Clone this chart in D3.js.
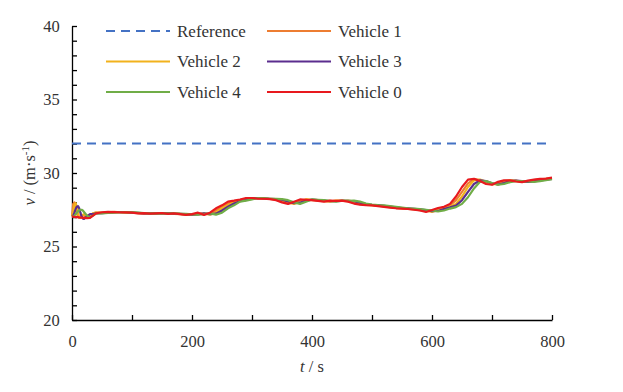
<!DOCTYPE html>
<html>
<head>
<meta charset="utf-8">
<script src="https://cdn.jsdelivr.net/npm/d3@7"></script>
<style>
  body { margin: 0; background: #fff; }
  svg, svg text { font-family: "Liberation Serif", "DejaVu Serif", serif !important; }
  svg text { fill: #333; }
</style>
</head>
<body>
<div class="chart"></div>
<script>
// time stamps (s)
const times = [0, 2, 4, 6, 8, 10, 12, 14, 16, 18, 20, 25, 30, 35,
  40, 50, 60, 70, 80, 90, 100, 110, 120, 130,
  140, 150, 160, 170, 180, 190, 200, 210, 220, 230,
  240, 250, 260, 270, 280, 290, 300, 310, 320, 330,
  340, 350, 360, 370, 380, 390, 400, 410, 420, 430,
  440, 450, 460, 470, 480, 490, 500, 510, 520, 530,
  540, 550, 560, 570, 580, 590, 600, 610, 620, 630,
  640, 650, 660, 670, 680, 690, 700, 710, 720, 730,
  740, 750, 760, 770, 780, 790, 800];

const referenceSpeed = 32;

const vehicle0 = [27.05, 27.03, 27.02, 27.0, 27.0, 27.0, 26.98, 26.97, 26.96, 26.95, 26.95, 26.93, 26.95, 27.1,
  27.25, 27.33, 27.35, 27.34, 27.33, 27.32, 27.3, 27.25, 27.27, 27.24,
  27.26, 27.28, 27.22, 27.25, 27.2, 27.15, 27.2, 27.3, 27.15, 27.3,
  27.6, 27.8, 28.05, 28.12, 28.2, 28.3, 28.3, 28.25, 28.25, 28.22,
  28.15, 28.0, 27.9, 28.05, 28.2, 28.18, 28.15, 28.1, 28.05, 28.12,
  28.1, 28.12, 28.05, 27.92, 27.85, 27.82, 27.8, 27.75, 27.7, 27.65,
  27.6, 27.58, 27.55, 27.5, 27.45, 27.35, 27.48, 27.62, 27.7, 27.9,
  28.4, 29.05, 29.55, 29.6, 29.45, 29.25, 29.2, 29.4, 29.5, 29.5,
  29.42, 29.38, 29.48, 29.55, 29.6, 29.62, 29.68];

const vehicle1 = [27.05, 27.9, 28.0, 27.7, 27.3, 27.0, 26.95, 27.0, 27.1, 27.15, 27.1, 27.05, 27.1, 27.25,
  27.3, 27.3, 27.33, 27.35, 27.32, 27.3, 27.3, 27.27, 27.24, 27.25,
  27.24, 27.26, 27.24, 27.22, 27.2, 27.17, 27.17, 27.25, 27.2, 27.22,
  27.45, 27.7, 27.93, 28.08, 28.16, 28.25, 28.3, 28.27, 28.25, 28.23,
  28.18, 28.08, 27.95, 27.97, 28.12, 28.19, 28.16, 28.12, 28.08, 28.08,
  28.11, 28.11, 28.08, 27.98, 27.88, 27.83, 27.81, 27.77, 27.72, 27.67,
  27.62, 27.59, 27.56, 27.52, 27.47, 27.4, 27.42, 27.55, 27.66, 27.8,
  28.15, 28.72, 29.3, 29.58, 29.52, 29.35, 29.22, 29.3, 29.45, 29.5,
  29.46, 29.4, 29.43, 29.52, 29.57, 29.61, 29.65];

const vehicle2 = [27.05, 27.4, 27.85, 27.95, 27.7, 27.3, 27.0, 26.95, 27.05, 27.15, 27.2, 27.1, 27.1, 27.25,
  27.3, 27.28, 27.32, 27.34, 27.34, 27.31, 27.3, 27.28, 27.26, 27.25,
  27.24, 27.25, 27.26, 27.23, 27.22, 27.19, 27.16, 27.2, 27.25, 27.17,
  27.3, 27.6, 27.8, 28.05, 28.12, 28.2, 28.3, 28.3, 28.25, 28.25,
  28.22, 28.15, 28.0, 27.9, 28.05, 28.2, 28.18, 28.15, 28.1, 28.05,
  28.12, 28.1, 28.12, 28.05, 27.92, 27.85, 27.82, 27.8, 27.75, 27.7,
  27.65, 27.6, 27.58, 27.55, 27.5, 27.45, 27.35, 27.48, 27.62, 27.7,
  27.9, 28.4, 29.05, 29.5, 29.55, 29.42, 29.25, 29.22, 29.38, 29.48,
  29.48, 29.42, 29.4, 29.46, 29.53, 29.58, 29.62];

const vehicle3 = [27.05, 27.1, 27.3, 27.55, 27.7, 27.75, 27.6, 27.3, 27.05, 26.9, 26.88, 27.05, 27.2, 27.2,
  27.25, 27.27, 27.3, 27.33, 27.34, 27.33, 27.31, 27.29, 27.26, 27.25,
  27.25, 27.25, 27.27, 27.24, 27.22, 27.2, 27.17, 27.18, 27.25, 27.2,
  27.23, 27.45, 27.7, 27.92, 28.08, 28.16, 28.25, 28.3, 28.27, 28.25,
  28.23, 28.18, 28.07, 27.95, 27.98, 28.12, 28.19, 28.16, 28.12, 28.08,
  28.08, 28.11, 28.11, 28.08, 27.98, 27.88, 27.83, 27.81, 27.77, 27.72,
  27.67, 27.62, 27.59, 27.56, 27.52, 27.47, 27.4, 27.42, 27.55, 27.66,
  27.78, 28.15, 28.72, 29.25, 29.5, 29.45, 29.3, 29.22, 29.32, 29.45,
  29.48, 29.45, 29.4, 29.43, 29.5, 29.55, 29.6];

const vehicle4 = [27.05, 27.05, 27.1, 27.2, 27.3, 27.4, 27.45, 27.5, 27.5, 27.45, 27.35, 27.1, 26.98, 27.1,
  27.25, 27.25, 27.28, 27.3, 27.33, 27.34, 27.32, 27.3, 27.28, 27.26,
  27.25, 27.25, 27.26, 27.26, 27.23, 27.22, 27.19, 27.16, 27.2, 27.25,
  27.17, 27.3, 27.6, 27.8, 28.05, 28.12, 28.2, 28.3, 28.3, 28.25,
  28.25, 28.22, 28.15, 28.0, 27.9, 28.05, 28.2, 28.18, 28.15, 28.1,
  28.05, 28.12, 28.1, 28.12, 28.05, 27.92, 27.85, 27.82, 27.8, 27.75,
  27.7, 27.65, 27.6, 27.58, 27.55, 27.5, 27.45, 27.38, 27.45, 27.58,
  27.68, 27.9, 28.35, 28.95, 29.4, 29.45, 29.32, 29.2, 29.25, 29.38,
  29.45, 29.45, 29.42, 29.4, 29.45, 29.52, 29.58];

const seriesNames = ["Vehicle 1", "Vehicle 2", "Vehicle 3", "Vehicle 4", "Vehicle 0"];
const seriesValues = [vehicle1, vehicle2, vehicle3, vehicle4, vehicle0];
const seriesColors = ["#ED7D31", "#F2B21C", "#5B2D8E", "#70AD47", "#E8191E"];
const legendOrder = ["Reference", "Vehicle 1", "Vehicle 2", "Vehicle 3", "Vehicle 4", "Vehicle 0"];

const xTicks = [0, 200, 400, 600, 800];
const yTicks = [20, 25, 30, 35, 40];

const fontFam = '"Liberation Serif", "DejaVu Serif", serif';

const svg_width = 623;
const svg_height = 392;
const margin = {top: 26, right: 71, bottom: 72, left: 72};
const chart_width = svg_width - margin.left - margin.right;
const chart_height = svg_height - margin.top - margin.bottom;

const svg = d3.select('.chart').append('svg')
  .attr('width', svg_width).attr('height', svg_height)
  .attr('font-family', fontFam);
const g = svg.append('g').attr('transform', `translate(${margin.left},${margin.top})`);

const xScale = d3.scaleLinear([0, 800], [0, chart_width]);
const yScale = d3.scaleLinear([20, 40], [chart_height, 0]);

// axes: ticks pointing inward
const xAxis = d3.axisBottom(xScale).tickValues(d3.range(0, 801, 100))
  .tickSizeInner(-5).tickSizeOuter(0).tickPadding(15)
  .tickFormat(d => xTicks.includes(d) ? d : '');
const xAxisDraw = g.append('g').attr('transform', `translate(0,${chart_height})`).call(xAxis);

const yAxis = d3.axisLeft(yScale).tickValues(d3.range(20, 41, 1))
  .tickSizeInner(-5).tickSizeOuter(0).tickPadding(14)
  .tickFormat(d => yTicks.includes(d) ? d : '');
const yAxisDraw = g.append('g').call(yAxis);

[xAxisDraw, yAxisDraw].forEach(a => {
  a.attr('font-family', fontFam).attr('font-size', 16.5);
  a.selectAll('path, line').attr('stroke', '#000').attr('stroke-width', 1.3);
  a.selectAll('text').style('font-family', fontFam).style('font-size', '16.5px').attr('fill', '#333');
});
yAxisDraw.selectAll('text').attr('dx', '0.1em');

// reference line
g.append('line')
  .attr('x1', xScale(0)).attr('x2', xScale(800))
  .attr('y1', yScale(referenceSpeed)).attr('y2', yScale(referenceSpeed))
  .attr('stroke', '#4472C4').attr('stroke-width', 2)
  .attr('stroke-dasharray', '9,6');

const line = d3.line().x((d, i) => xScale(times[i])).y(d => yScale(d));

g.append('g').attr('class', 'lines').selectAll('path')
  .data(seriesValues)
  .join('path')
  .attr('d', d => line(d))
  .attr('fill', 'none')
  .attr('stroke', (d, i) => seriesColors[i])
  .attr('stroke-width', 2.2)
  .attr('stroke-linejoin', 'round');

// legend
const legend = svg.append('g').attr('class', 'legend');
legendOrder.forEach((name, i) => {
  const col = i % 2, row = Math.floor(i / 2);
  const lx = 106 + col * 161;
  const ly = 31 + row * 30.5;
  const item = legend.append('g').attr('transform', `translate(${lx},${ly})`);
  const isRef = name === 'Reference';
  item.append('line').attr('x1', 0).attr('x2', 64).attr('y1', 0).attr('y2', 0)
    .attr('stroke', isRef ? '#4472C4' : seriesColors[seriesNames.indexOf(name)])
    .attr('stroke-width', 2)
    .attr('stroke-dasharray', isRef ? '9,6' : null);
  item.append('text').attr('x', 71).attr('y', 5.8)
    .style('font-family', fontFam).style('font-size', '17px').text(name);
});

// axis titles
const xTitle = svg.append('text')
  .attr('x', margin.left + chart_width / 2).attr('y', 372)
  .attr('text-anchor', 'middle').style('font-family', fontFam).style('font-size', '16.5px');
xTitle.append('tspan').style('font-style', 'italic').text('t');
xTitle.append('tspan').text(' / s');

const yTitle = svg.append('text')
  .attr('transform', `translate(35,${margin.top + chart_height / 2}) rotate(-90)`)
  .attr('text-anchor', 'middle').style('font-family', fontFam).style('font-size', '16.5px');
yTitle.append('tspan').style('font-style', 'italic').text('v');
yTitle.append('tspan').text(' / (m·s');
yTitle.append('tspan').attr('dy', -6).style('font-size', '11px').text('-1');
yTitle.append('tspan').attr('dy', 6).text(')');
</script>
</body>
</html>
